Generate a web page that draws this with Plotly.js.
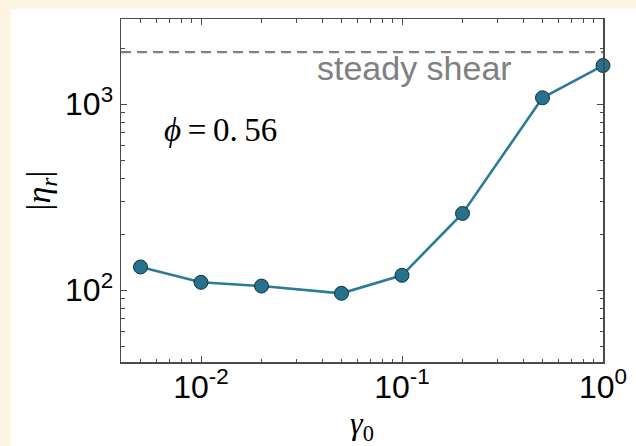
<!DOCTYPE html>
<html>
<head>
<meta charset="utf-8">
<script src="https://cdn.plot.ly/plotly-3.0.1.min.js"></script>
<style>
  html, body { margin: 0; padding: 0; background: #fdf5e2; width: 636px; height: 446px; overflow: hidden; }
  #plot { position: absolute; left: 11px; top: 9px; width: 625px; height: 437px; background: #ffffff; }
</style>
</head>
<body>
<div id="plot"></div>
<script>
// Data
const gamma0 = [0.005, 0.01, 0.02, 0.05, 0.1, 0.2, 0.5, 1.0];
const etaR = [133, 110, 105, 96, 120, 258, 1080, 1610];
const steadyShear = [1900];
const xTickVals = [0.01, 0.1, 1];
const xTickText = ['10<sup>-2</sup>', '10<sup>-1</sup>', '10<sup>0</sup>'];
const yTickVals = [100, 1000];
const yTickText = ['10<sup>2</sup>', '10<sup>3</sup>'];
const steadyLabel = 'steady shear';
const phiLabel = '<i>ϕ</i>\u2009=\u20090.\u200956';
const xTitle = '<i>γ</i><sub>0</sub>';
const yTitle = '|<i>η</i><sub><i>r</i></sub>|';

// minor tick positions (2..9 times each decade)
const xMinor = [];
[0.001, 0.01, 0.1].forEach(d => { for (let k = 2; k <= 9; k++) xMinor.push(k * d); });
const yMinor = [];
[10, 100, 1000].forEach(d => { for (let k = 2; k <= 9; k++) yMinor.push(k * d); });

const FRAME = '#4a4a4a';
const SANS = 'Liberation Sans, Arial, Helvetica, sans-serif';
const SERIF = 'Liberation Serif, Times New Roman, serif';

const trace = {
  x: gamma0,
  y: etaR,
  type: 'scatter',
  mode: 'lines+markers',
  line: { color: '#2b7b96', width: 2.6 },
  marker: { size: 14, color: '#26718b', line: { color: '#12323d', width: 1 } },
  showlegend: false,
  cliponaxis: false
};

const minorTrace = {
  x: gamma0, y: etaR, xaxis: 'x2', yaxis: 'y2',
  type: 'scatter', mode: 'none', showlegend: false, hoverinfo: 'skip'
};

const axisCommon = {
  type: 'log',
  showgrid: false,
  zeroline: false,
  showline: true,
  linecolor: FRAME,
  linewidth: 1.5,
  mirror: 'ticks',
  ticks: 'inside',
  ticklen: 6,
  tickwidth: 1,
  tickcolor: FRAME,
  tickfont: { family: SANS, size: 32, color: '#000000' }
};

const minorCommon = {
  type: 'log',
  showgrid: false,
  zeroline: false,
  showline: false,
  showticklabels: false,
  mirror: 'ticks',
  ticks: 'inside',
  ticklen: 3.5,
  tickwidth: 1,
  tickcolor: FRAME,
  tickmode: 'array'
};

const layout = {
  width: 625,
  height: 437,
  paper_bgcolor: '#ffffff',
  plot_bgcolor: '#ffffff',
  margin: { l: 110, r: 33, t: 10, b: 84 },
  xaxis: Object.assign({}, axisCommon, {
    range: [-2.398, 0],
    tickmode: 'array',
    tickvals: xTickVals,
    ticktext: xTickText,
    ticklabelstandoff: -4,
    title: { text: xTitle, font: { family: SERIF, size: 32, color: '#000' }, standoff: 10 }
  }),
  yaxis: Object.assign({}, axisCommon, {
    range: [1.613, 3.457],
    tickmode: 'array',
    tickvals: yTickVals,
    ticktext: yTickText,
    title: { text: yTitle, font: { family: SERIF, size: 34, color: '#000' }, standoff: 4 }
  }),
  xaxis2: Object.assign({}, minorCommon, {
    overlaying: 'x', anchor: 'y', side: 'bottom',
    range: [-2.398, 0], tickvals: xMinor
  }),
  yaxis2: Object.assign({}, minorCommon, {
    overlaying: 'y', anchor: 'x', side: 'left',
    range: [1.613, 3.457], tickvals: yMinor
  }),
  shapes: [{
    type: 'line', xref: 'paper', yref: 'y',
    x0: 0, x1: 1, y0: steadyShear[0], y1: steadyShear[0],
    line: { color: '#808080', width: 2.2, dash: '10px,6px' }
  }],
  annotations: [
    {
      xref: 'paper', yref: 'paper', x: 0.608, y: 0.857,
      xanchor: 'center', yanchor: 'middle',
      text: steadyLabel, showarrow: false,
      font: { family: SANS, size: 34, color: '#808080' }
    },
    {
      xref: 'paper', yref: 'paper', x: 0.207, y: 0.676,
      xanchor: 'center', yanchor: 'middle',
      text: phiLabel, showarrow: false,
      font: { family: SERIF, size: 33, color: '#000000' }
    }
  ]
};

Plotly.newPlot('plot', [minorTrace, trace], layout, { staticPlot: true, displayModeBar: false });
</script>
</body>
</html>
